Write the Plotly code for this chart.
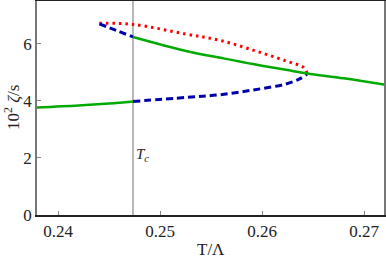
import plotly.graph_objects as go

# Stable branch (green), lower part
green_lo_T = [0.23791, 0.2420, 0.2450, 0.24735]
green_lo_y = [3.77, 3.84, 3.91, 3.98]
# Stable branch (green), upper part
green_hi_T = [0.24735, 0.25255, 0.25578, 0.25912, 0.26235, 0.26441, 0.2680, 0.27216]
green_hi_y = [6.24, 5.75, 5.52, 5.29, 5.09, 4.96, 4.79, 4.56]
# Metastable branches (blue dashed)
blue_lo_T = [0.24735, 0.25255, 0.25578, 0.25912, 0.26235, 0.26363, 0.26441]
blue_lo_y = [3.98, 4.12, 4.21, 4.38, 4.59, 4.76, 4.93]
blue_hi_T = [0.24405, 0.2457, 0.24735]
blue_hi_y = [6.70, 6.47, 6.24]
# Unstable branch (red dotted)
red_T = [0.24405, 0.24735, 0.25255, 0.25578, 0.25912, 0.26235, 0.26412, 0.26441]
red_y = [6.72, 6.68, 6.34, 6.13, 5.78, 5.40, 5.16, 4.96]

Tc = 0.24735
x_ticks = [0.24, 0.25, 0.26, 0.27]
y_ticks = [0, 2, 4, 6]

SERIF = "Times New Roman, Liberation Serif, serif"

fig = go.Figure()
fig.add_trace(go.Scatter(x=red_T, y=red_y, mode="lines", line=dict(color="#ff0000", width=3, dash="2.5px,4px", shape="spline")))
fig.add_trace(go.Scatter(x=blue_hi_T, y=blue_hi_y, mode="lines", line=dict(color="#0000aa", width=3, dash="7px,4px", shape="spline")))
fig.add_trace(go.Scatter(x=blue_lo_T, y=blue_lo_y, mode="lines", line=dict(color="#0000aa", width=3, dash="7px,4px", shape="spline")))
fig.add_trace(go.Scatter(x=green_lo_T, y=green_lo_y, mode="lines", line=dict(color="#00aa00", width=2.5, shape="spline")))
fig.add_trace(go.Scatter(x=green_hi_T, y=green_hi_y, mode="lines", line=dict(color="#00aa00", width=2.5, shape="spline")))

fig.add_shape(type="line", x0=Tc, x1=Tc, y0=0, y1=7.5, xref="x", yref="y", line=dict(color="#888888", width=1.2), layer="below")
fig.add_annotation(x=Tc, y=2.1, text="<i>T<sub>c</sub></i>", showarrow=False, xanchor="left", xshift=1,
                   font=dict(family=SERIF, size=15, color="#222"))
# axis titles
fig.add_annotation(x=0.5, y=0, xref="paper", yref="paper", yshift=-46, yanchor="bottom",
                   text="T/Λ", showarrow=False, font=dict(family=SERIF, size=17, color="#222"))
fig.add_annotation(x=0, y=0.5, xref="paper", yref="paper", xshift=-25, xanchor="center",
                   text="10<sup>2</sup> <i>ζ</i>/s", textangle=-90, showarrow=False,
                   font=dict(family=SERIF, size=17, color="#222"))

fig.update_layout(
    width=386, height=265,
    margin=dict(l=37, r=2, t=1, b=50, autoexpand=False),
    paper_bgcolor="white", plot_bgcolor="white",
    showlegend=False,
    font=dict(family=SERIF, size=17, color="#222"),
    xaxis=dict(range=[0.23794, 0.27196], tickvals=x_ticks, ticktext=["0.24", "0.25", "0.26", "0.27"],
               tickfont=dict(family=SERIF, size=17, color="#222"),
               ticks="inside", ticklen=4, tickcolor="#888", showgrid=False, zeroline=False,
               showline=True, linecolor="#222", linewidth=1.5, mirror=True, automargin=False),
    yaxis=dict(range=[0, 7.5], tickvals=y_ticks, ticks="inside", ticklen=4, tickcolor="#888",
               tickfont=dict(family=SERIF, size=17, color="#222"),
               showgrid=False, zeroline=False, showline=True, linecolor="#777", linewidth=1.5, mirror=True,
               automargin=False),
)
fig.write_html("out.html", config={"displayModeBar": False},
               post_script="document.body.style.margin='0';document.body.style.padding='0';")
